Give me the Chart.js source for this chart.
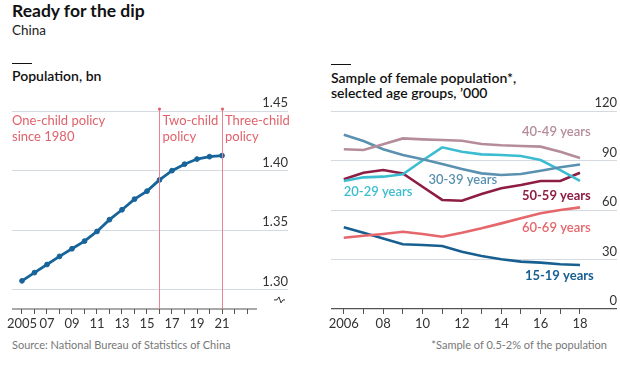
<!DOCTYPE html>
<html>
<head>
<meta charset="utf-8">
<script src="https://cdn.jsdelivr.net/npm/chart.js@4"></script>
<style>
  body { margin: 0; width: 620px; height: 368px; background: #fff; font-family: Lato, "Noto Sans", sans-serif; color: #111; position: relative; overflow: hidden; }
  .txt { position: absolute; white-space: nowrap; }
  .title { left: 12px; top: 0px; font-size: 17.5px; font-weight: 700; }
  .sub { left: 12px; top: 22px; font-size: 13.5px; color: #222; }
  .rule { position: absolute; height: 1.3px; width: 20px; background: #111; }
  .head { font-size: 14px; font-weight: 600; line-height: 15px; }
  .src { font-size: 11px; color: #777; top: 338px; }
  .box { position: absolute; top: 96px; width: 310px; height: 240px; }
</style>
</head>
<body>
<div class="txt title">Ready for the dip</div>
<div class="txt sub">China</div>

<div class="rule" style="left:12px; top:63px;"></div>
<div class="txt head" style="left:12px; top:68px;">Population, bn</div>

<div class="rule" style="left:331px; top:64px;"></div>
<div class="txt head" style="left:331px; top:70px;">Sample of female population*,<br>selected age groups, ’000</div>

<div class="box" style="left:0;"><canvas id="chart-1"></canvas></div>
<div class="box" style="left:310px;"><canvas id="chart-2"></canvas></div>

<div class="txt src" style="left:12px;">Source: National Bureau of Statistics of China</div>
<div class="txt src" style="right:13px;">*Sample of 0.5-2% of the population</div>

<script>
// population, bn
const popYears = [2005, 2006, 2007, 2008, 2009, 2010, 2011, 2012, 2013, 2014, 2015, 2016, 2017, 2018, 2019, 2020, 2021];
const population = [1.3076, 1.3145, 1.3213, 1.3281, 1.3345, 1.3409, 1.3490, 1.3589, 1.3672, 1.3761, 1.3828, 1.3922, 1.4000, 1.4054, 1.4097, 1.4117, 1.4126];
const popTicks = [1.30, 1.35, 1.40, 1.45];
const policyYears = [2016, 2021];

// female sample, '000
const sampleYears = [2006, 2007, 2008, 2009, 2010, 2011, 2012, 2013, 2014, 2015, 2016, 2017, 2018];
const age15to19 = [49.5, 46.2, 42.8, 39.2, 38.8, 38.2, 34.7, 32.1, 30.1, 28.7, 28.1, 27.1, 26.7];
const age20to29 = [77.6, 79.8, 80.2, 81.6, 90.0, 98.0, 95.3, 93.7, 93.3, 92.7, 90.3, 84.2, 77.6];
const age30to39 = [105.6, 101.8, 96.8, 93.3, 90.7, 87.9, 84.8, 82.2, 81.2, 81.8, 83.8, 85.9, 87.6];
const age40to49 = [96.8, 96.4, 99.8, 103.4, 102.8, 102.4, 102.0, 100.0, 99.2, 98.8, 98.4, 95.3, 91.5];
const age50to59 = [78.6, 82.6, 84.2, 82.2, 74.1, 66.1, 65.6, 69.7, 73.2, 75.2, 77.6, 77.6, 82.6];
const age60to69 = [43.2, 44.4, 45.5, 46.8, 45.5, 43.8, 46.2, 48.9, 51.9, 55.0, 58.0, 60.0, 61.6];
const sampleTicks = [0, 30, 60, 90, 120];

const FONT = 'Lato, "Noto Sans", sans-serif';
const GRID = '#d5dae1';
const AXIS = '#555';
const POLICY = '#e0626b';

// series and where their names sit (data units)
const seriesConfigs = [
    { name: '40-49 years', data: age40to49, color: '#b58c9c', lx: 2015.05, ly: 107.5, bold: false },
    { name: '30-39 years', data: age30to39, color: '#5b91b0', lx: 2010.3, ly: 78.2, bold: false },
    { name: '20-29 years', data: age20to29, color: '#3bbcd0', lx: 2006.0, ly: 71, bold: false },
    { name: '50-59 years', data: age50to59, color: '#8e1d44', lx: 2015.05, ly: 68.5, bold: true },
    { name: '60-69 years', data: age60to69, color: '#e5676b', lx: 2015.05, ly: 49, bold: false },
    { name: '15-19 years', data: age15to19, color: '#185f91', lx: 2015.2, ly: 20, bold: true }
];

function yearLabel(v) {
    return v === 2005 || v === 2006 ? String(v) : String(v).slice(2);
}

// left chart extras: policy lines, notes, baseline, axis break
const policyPlugin = {
    id: 'policy',
    afterDatasetsDraw(chart) {
        const { ctx, chartArea, scales } = chart;
        const x = scales.x, y = scales.y;
        ctx.save();
        // baseline
        ctx.strokeStyle = AXIS;
        ctx.lineWidth = 1.2;
        ctx.beginPath();
        ctx.moveTo(x.getPixelForValue(2004.2), chartArea.bottom);
        ctx.lineTo(x.getPixelForValue(2023.8), chartArea.bottom);
        ctx.stroke();
        // policy lines
        ctx.strokeStyle = '#e8848c';
        ctx.fillStyle = POLICY;
        ctx.lineWidth = 1;
        policyYears.forEach(yr => {
            const px = Math.round(x.getPixelForValue(yr)) + 0.5;
            ctx.beginPath();
            ctx.moveTo(px, chartArea.top - 3);
            ctx.lineTo(px, chartArea.bottom);
            ctx.stroke();
            ctx.beginPath();
            ctx.arc(px, chartArea.top - 2, 1.6, 0, Math.PI * 2);
            ctx.fill();
        });
        // notes
        ctx.font = '13px ' + FONT;
        ctx.textBaseline = 'middle';
        ctx.textAlign = 'left';
        const t1 = chartArea.top + 10, t2 = chartArea.top + 25.5;
        ctx.fillText('One-child policy', chartArea.left, t1);
        ctx.fillText('since 1980', chartArea.left, t2);
        const p1 = x.getPixelForValue(policyYears[0]) + 3;
        ctx.fillText('Two-child', p1, t1);
        ctx.fillText('policy', p1, t2);
        const p2 = x.getPixelForValue(policyYears[1]) + 3;
        ctx.fillText('Three-child', p2, t1);
        ctx.fillText('policy', p2, t2);
        // axis break mark
        const by = y.getPixelForValue(1.30) + 10;
        const bx = chartArea.right - 9;
        ctx.strokeStyle = '#333';
        ctx.lineWidth = 1;
        ctx.beginPath();
        ctx.moveTo(bx - 5, by);
        ctx.lineTo(bx - 2, by);
        ctx.lineTo(bx, by - 3);
        ctx.lineTo(bx + 2, by + 3);
        ctx.lineTo(bx + 4, by);
        ctx.lineTo(bx + 6, by);
        ctx.stroke();
        ctx.restore();
    }
};

// right chart extras: series names
const namesPlugin = {
    id: 'names',
    afterDatasetsDraw(chart) {
        const { ctx, scales } = chart;
        ctx.save();
        ctx.textBaseline = 'middle';
        ctx.textAlign = 'left';
        seriesConfigs.forEach(s => {
            ctx.font = (s.bold ? '700 ' : '600 ') + '13px ' + FONT;
            ctx.fillStyle = s.color;
            ctx.fillText(s.name, scales.x.getPixelForValue(s.lx), scales.y.getPixelForValue(s.ly));
        });
        ctx.restore();
    }
};

function initializeCharts() {
    new Chart(document.getElementById('chart-1').getContext('2d'), {
        type: 'line',
        data: {
            datasets: [{
                data: popYears.map((yr, i) => ({ x: yr, y: population[i] })),
                borderColor: '#17649a',
                backgroundColor: '#17649a',
                borderWidth: 2.8,
                pointRadius: 2.4,
                pointBorderWidth: 1,
                tension: 0
            }]
        },
        options: {
            animation: false,
            responsive: true,
            maintainAspectRatio: false,
            layout: { padding: { left: 12, right: 22, top: 15, bottom: 0 } },
            plugins: { legend: { display: false }, tooltip: { enabled: false } },
            scales: {
                x: {
                    type: 'linear',
                    min: 2004.2,
                    max: 2026.28,
                    afterBuildTicks: axis => {
                        const t = [];
                        for (let v = 2005; v <= 2023; v++) t.push({ value: v });
                        axis.ticks = t;
                    },
                    afterFit: s => { s.height = 27; },
                    border: { display: false },
                    grid: { drawOnChartArea: false, drawTicks: true, tickLength: 5, color: AXIS },
                    ticks: {
                        autoSkip: false,
                        maxRotation: 0,
                        padding: 2,
                        color: '#333',
                        font: { family: FONT, size: 13 },
                        callback: v => (v % 2 === 1 && v <= 2021 ? yearLabel(v) : '')
                    }
                },
                y: {
                    position: 'right',
                    min: 1.284,
                    max: 1.45,
                    afterBuildTicks: axis => { axis.ticks = popTicks.map(v => ({ value: v })); },
                    afterFit: s => { s.width = 0; },
                    border: { display: false },
                    grid: { color: GRID, drawTicks: false, lineWidth: 1 },
                    ticks: {
                        mirror: true,
                        padding: 0,
                        labelOffset: -8,
                        color: '#333',
                        font: { family: FONT, size: 13 },
                        callback: v => v.toFixed(2)
                    }
                }
            }
        },
        plugins: [policyPlugin]
    });

    new Chart(document.getElementById('chart-2').getContext('2d'), {
        type: 'line',
        data: {
            datasets: seriesConfigs.map(s => ({
                label: s.name,
                data: sampleYears.map((yr, i) => ({ x: yr, y: s.data[i] })),
                borderColor: s.color,
                borderWidth: 2.6,
                pointRadius: 0,
                tension: 0
            }))
        },
        options: {
            animation: false,
            responsive: true,
            maintainAspectRatio: false,
            layout: { padding: { left: 21, right: 3, top: 15, bottom: 0 } },
            plugins: { legend: { display: false }, tooltip: { enabled: false } },
            scales: {
                x: {
                    type: 'linear',
                    min: 2005.35,
                    max: 2019.88,
                    afterBuildTicks: axis => { axis.ticks = sampleYears.map(v => ({ value: v })); },
                    afterFit: s => { s.height = 27; },
                    border: { display: false },
                    grid: { drawOnChartArea: false, drawTicks: true, tickLength: 5, color: AXIS },
                    ticks: {
                        autoSkip: false,
                        maxRotation: 0,
                        padding: 2,
                        color: '#333',
                        font: { family: FONT, size: 13 },
                        callback: v => (v % 2 === 0 ? yearLabel(v) : '')
                    }
                },
                y: {
                    position: 'right',
                    min: 0,
                    max: 120,
                    afterBuildTicks: axis => { axis.ticks = sampleTicks.map(v => ({ value: v })); },
                    afterFit: s => { s.width = 0; },
                    border: { display: false },
                    grid: {
                        drawTicks: false,
                        color: ctx => (ctx.tick && ctx.tick.value === 0 ? AXIS : GRID),
                        lineWidth: ctx => (ctx.tick && ctx.tick.value === 0 ? 1.2 : 1)
                    },
                    ticks: {
                        mirror: true,
                        padding: 0,
                        labelOffset: -8,
                        color: '#333',
                        font: { family: FONT, size: 13 }
                    }
                }
            }
        },
        plugins: [namesPlugin]
    });
}

initializeCharts();
</script>
</body>
</html>
